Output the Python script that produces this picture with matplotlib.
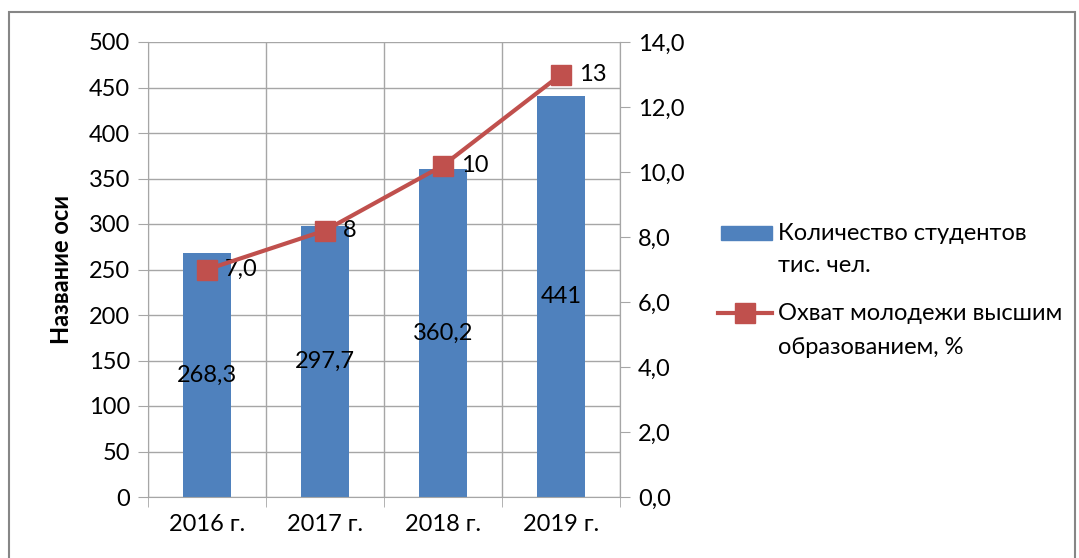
import matplotlib
matplotlib.use("Agg")
import matplotlib.pyplot as plt
from matplotlib.patches import Rectangle
from matplotlib.lines import Line2D

years = ["2016 г.", "2017 г.", "2018 г.", "2019 г."]
students = [268.3, 297.7, 360.2, 441]
student_labels = ["268,3", "297,7", "360,2", "441"]
coverage = [7.0, 8.2, 10.2, 13.0]
coverage_labels = ["7,0", "8", "10", "13"]
legend_students = ["Количество студентов", "тис. чел."]
legend_coverage = ["Охват молодежи высшим", "образованием, %"]

bar_color = "#4F81BD"
line_color = "#C0504D"
grid_color = "#A6A6A6"

plt.rcParams["font.family"] = ["Lato", "DejaVu Sans"]
fs = 17

fig = plt.figure(figsize=(10.79, 5.58), dpi=100)
ax = fig.add_axes([148 / 1079, 1 - 497 / 558, (620 - 148) / 1079, (497 - 42) / 558])

x = list(range(len(years)))
ax.bar(x, students, width=0.4, color=bar_color, zorder=2)
for xi, v, lab in zip(x, students, student_labels):
    ax.text(xi, v / 2, lab, ha="center", va="center", fontsize=fs, zorder=5)

ax.set_xlim(-0.5, 3.5)
ax.set_ylim(0, 500)
ax.set_yticks(range(0, 501, 50))
ax.set_xticks(x)
ax.set_xticklabels(years, fontsize=fs)
ax.set_xticks([-0.5, 0.5, 1.5, 2.5, 3.5], minor=True)
ax.tick_params(axis="x", which="major", length=0, pad=12)
ax.tick_params(axis="x", which="minor", length=7, color=grid_color, direction="out")
ax.tick_params(axis="y", labelsize=fs, length=7, color=grid_color, pad=6)
ax.grid(True, which="minor", axis="x", color=grid_color, lw=1, zorder=0)
ax.grid(True, which="major", axis="y", color=grid_color, lw=1, zorder=0)
ax.spines["top"].set_visible(False)
for s in ["left", "right", "bottom"]:
    ax.spines[s].set_color(grid_color)
ax.set_ylabel("Название оси", fontsize=fs, fontweight="bold", labelpad=11)

ax2 = ax.twinx()
ax2.plot(x, coverage, color=line_color, lw=3, marker="s", ms=14, zorder=4)
for xi, v, lab in zip(x, coverage, coverage_labels):
    ax2.annotate(lab, (xi, v), xytext=(13, 0), textcoords="offset points",
                 ha="left", va="center", fontsize=fs)
ax2.set_ylim(0, 14)
right_ticks = [0, 2, 4, 6, 8, 10, 12, 14]
ax2.set_yticks(right_ticks)
ax2.set_yticklabels([f"{t:.1f}".replace(".", ",") for t in right_ticks])
ax2.tick_params(axis="y", labelsize=fs, length=7, color=grid_color, pad=6)
for s in ["top", "left", "bottom"]:
    ax2.spines[s].set_visible(False)
ax2.spines["right"].set_color(grid_color)

# legend drawn by hand so the keys sit on the first text line
W, H = 1079, 558
fig.add_artist(Rectangle((721 / W, 1 - 240 / H), 51 / W, 14 / H,
                         transform=fig.transFigure, color=bar_color))
for i, line in enumerate(legend_students):
    fig.text(778 / W, 1 - (233 + 33 * i) / H, line, fontsize=fs,
             ha="left", va="center")
fig.add_artist(Line2D([718 / W, 772 / W], [1 - 313 / H, 1 - 313 / H],
                      transform=fig.transFigure, color=line_color, lw=3))
fig.add_artist(Line2D([745 / W], [1 - 313 / H], transform=fig.transFigure,
                      color=line_color, marker="s", ms=14))
for i, line in enumerate(legend_coverage):
    fig.text(778 / W, 1 - (314 + 33 * i) / H, line, fontsize=fs,
             ha="left", va="center")

# outer chart border
fig.add_artist(Rectangle((9 / W, -0.05), 1066 / W, 1.05 - 12 / H,
                         transform=fig.transFigure, fill=False,
                         edgecolor="#868686", lw=1.5))

fig.savefig("out.png", dpi=100)
